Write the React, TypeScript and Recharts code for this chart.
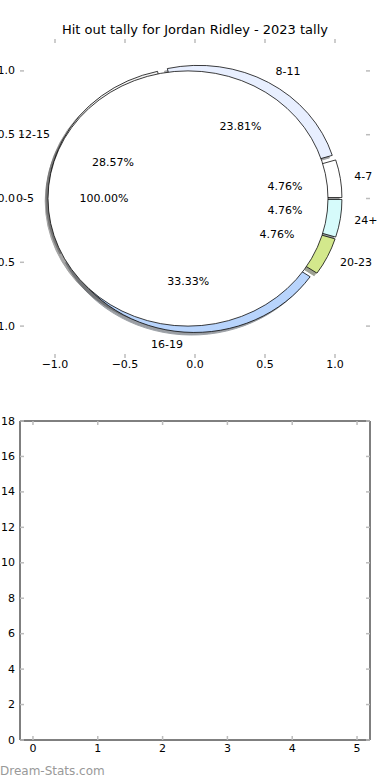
import React from 'react';
import { PieChart, Pie, Cell, Sector, ScatterChart, Scatter, XAxis, YAxis } from 'recharts';

// hit out brackets (outer, exploded ring)
const bracketNames = ['4-7', '8-11', '12-15', '16-19', '20-23', '24+'];
const bracketCounts = [1, 5, 6, 7, 1, 1];
const bracketColors = ['#ffffff', '#e8efff', '#f4f4f4', '#b8d4fc', '#d3e88c', '#d6fbfb'];

// the single-slice pie drawn on top
const totalNames = ['0-5'];
const totalCounts = [21];
const totalColors = ['#ffffff'];

const pieAxisTicks = [-1, -0.5, 0, 0.5, 1];
const emptyXTicks = [0, 1, 2, 3, 4, 5];
const emptyYTicks = [0, 2, 4, 6, 8, 10, 12, 14, 16, 18];

const bracketData = bracketNames.map((name, i) => ({ name, value: bracketCounts[i] }));
const totalData = totalNames.map((name, i) => ({ name, value: totalCounts[i] }));

const FONT = '"DejaVu Sans", sans-serif';
const RADIAN = Math.PI / 180;
const CX = 195;
const CY = 198.5;
const R = 140;
const K = 127.6 / 140; // matplotlib axes are not square, so the pie is an ellipse
const EXPLODE = 0.05;
const SHADOW = 0.02;

const darken = (hex: string) => {
  const n = parseInt(hex.slice(1), 16);
  const r = Math.round(((n >> 16) & 255) * 0.3);
  const g = Math.round(((n >> 8) & 255) * 0.3);
  const b = Math.round((n & 255) * 0.3);
  return `rgb(${r},${g},${b})`;
};

const wedgeShape = (mode: 'shadow' | 'wedge') => (props: any) => {
  const { cx, cy, outerRadius, startAngle, endAngle, midAngle, fill } = props;
  const r = outerRadius;
  let x = cx + EXPLODE * r * Math.cos(-midAngle * RADIAN);
  let y = cy + EXPLODE * r * Math.sin(-midAngle * RADIAN);
  if (mode === 'shadow') {
    x -= SHADOW * r;
    y += SHADOW * r;
  }
  const color = mode === 'shadow' ? darken(fill) : fill;
  const style =
    mode === 'shadow'
      ? { fill: color, stroke: color, strokeWidth: 1, opacity: 0.5 }
      : { fill: color, stroke: '#000', strokeWidth: 0.8 };
  const full = Math.abs(endAngle - startAngle) >= 359.9;
  return (
    <g transform={`translate(0 ${cy}) scale(1 ${K}) translate(0 ${-cy})`}>
      {full ? (
        <circle cx={x} cy={y} r={r} {...style} />
      ) : (
        <Sector
          cx={x}
          cy={y}
          innerRadius={0}
          outerRadius={r}
          startAngle={startAngle}
          endAngle={endAngle}
          {...style}
        />
      )}
    </g>
  );
};

const noShape = () => <g />;

const renderLabel = (props: any) => {
  const { cx, cy, midAngle, outerRadius, percent, name } = props;
  const c = Math.cos(-midAngle * RADIAN);
  const s = Math.sin(-midAngle * RADIAN);
  const lr = (1.1 + EXPLODE) * outerRadius;
  const pr = (0.6 + EXPLODE) * outerRadius;
  const lx = cx + lr * c;
  const ly = cy + lr * s * K;
  return (
    <g>
      <text
        x={lx}
        y={ly}
        textAnchor={lx > cx ? 'start' : 'end'}
        dominantBaseline="central"
        fontSize={11}
        fontFamily={FONT}
        fill="#000"
      >
        {name}
      </text>
      <text
        x={cx + pr * c}
        y={cy + pr * s * K}
        textAnchor="middle"
        dominantBaseline="central"
        fontSize={11}
        fontFamily={FONT}
        fill="#000"
      >
        {(percent * 100).toFixed(2)}%
      </text>
    </g>
  );
};

type Side = 'left' | 'right' | 'top' | 'bottom';

const makeTick = (side: Side, fmt: ((v: number) => string) | null, gap = 10) => (p: any) => {
  const { x, y, payload } = p;
  const len = 4;
  const x2 = side === 'left' ? x + len : side === 'right' ? x - len : x;
  const y2 = side === 'top' ? y + len : side === 'bottom' ? y - len : y;
  return (
    <g>
      <line x1={x} y1={y} x2={x2} y2={y2} stroke="#bcbcbc" strokeWidth={1.5} />
      {fmt && side === 'left' && (
        <text x={x - 5} y={y} textAnchor="end" dominantBaseline="central" fontSize={11} fontFamily={FONT} fill="#000">
          {fmt(payload.value)}
        </text>
      )}
      {fmt && side === 'bottom' && (
        <text x={x} y={y + gap} textAnchor="middle" fontSize={11} fontFamily={FONT} fill="#000">
          {fmt(payload.value)}
        </text>
      )}
    </g>
  );
};

const fmtPie = (v: number) => v.toFixed(1).replace('-', '\u2212');
const fmtInt = (v: number) => String(v);

export default function App() {
  return (
    <div style={{ position: 'absolute', left: 0, top: 0, width: 390, height: 780, background: '#fff' }}>
      <div
        style={{
          position: 'absolute',
          top: 23,
          left: 0,
          width: 390,
          textAlign: 'center',
          fontFamily: FONT,
          fontSize: 13,
          lineHeight: '13px',
          color: '#000',
        }}
      >
        Hit out tally for Jordan Ridley - 2023 tally
      </div>

      {/* axes frame of the pie panel */}
      <div style={{ position: 'absolute', top: 0, left: 0 }}>
        <ScatterChart width={390} height={390} margin={{ top: 0, right: 0, bottom: 0, left: 0 }}>
          <XAxis
            xAxisId="b"
            type="number"
            dataKey="x"
            orientation="bottom"
            height={32}
            domain={[-1.25, 1.25]}
            ticks={pieAxisTicks}
            interval={0}
            allowDataOverflow
            axisLine={false}
            tickLine={false}
            tickSize={0}
            tickMargin={0}
            tick={makeTick('bottom', fmtPie, 10)}
          />
          <XAxis
            xAxisId="t"
            type="number"
            dataKey="x"
            orientation="top"
            height={39}
            domain={[-1.25, 1.25]}
            ticks={pieAxisTicks}
            interval={0}
            allowDataOverflow
            axisLine={false}
            tickLine={false}
            tickSize={0}
            tickMargin={0}
            tick={makeTick('top', null)}
          />
          <YAxis
            yAxisId="l"
            type="number"
            dataKey="y"
            orientation="left"
            width={20}
            domain={[-1.25, 1.25]}
            ticks={pieAxisTicks}
            interval={0}
            allowDataOverflow
            axisLine={false}
            tickLine={false}
            tickSize={0}
            tickMargin={0}
            tick={makeTick('left', fmtPie)}
          />
          <YAxis
            yAxisId="r"
            type="number"
            dataKey="y"
            orientation="right"
            width={20}
            domain={[-1.25, 1.25]}
            ticks={pieAxisTicks}
            interval={0}
            allowDataOverflow
            axisLine={false}
            tickLine={false}
            tickSize={0}
            tickMargin={0}
            tick={makeTick('right', null)}
          />
          <Scatter xAxisId="b" yAxisId="l" data={[]} isAnimationActive={false} />
        </ScatterChart>
      </div>

      {/* the pies */}
      <div style={{ position: 'absolute', top: 0, left: 0 }}>
        <PieChart width={390} height={390} margin={{ top: 0, right: 0, bottom: 0, left: 0 }}>
          <Pie
            data={bracketData}
            dataKey="value"
            nameKey="name"
            cx={CX}
            cy={CY}
            outerRadius={R}
            isAnimationActive={false}
            labelLine={false}
            shape={wedgeShape('shadow')}
          >
            {bracketColors.map((c, i) => (
              <Cell key={i} fill={c} />
            ))}
          </Pie>
          <Pie
            data={totalData}
            dataKey="value"
            nameKey="name"
            cx={CX}
            cy={CY}
            outerRadius={R}
            isAnimationActive={false}
            labelLine={false}
            shape={wedgeShape('shadow')}
          >
            {totalColors.map((c, i) => (
              <Cell key={i} fill={c} />
            ))}
          </Pie>
          <Pie
            data={bracketData}
            dataKey="value"
            nameKey="name"
            cx={CX}
            cy={CY}
            outerRadius={R}
            isAnimationActive={false}
            labelLine={false}
            shape={wedgeShape('wedge')}
          >
            {bracketColors.map((c, i) => (
              <Cell key={i} fill={c} />
            ))}
          </Pie>
          <Pie
            data={totalData}
            dataKey="value"
            nameKey="name"
            cx={CX}
            cy={CY}
            outerRadius={R}
            isAnimationActive={false}
            labelLine={false}
            shape={wedgeShape('wedge')}
          >
            {totalColors.map((c, i) => (
              <Cell key={i} fill={c} />
            ))}
          </Pie>
          {/* labels go last so the white disc does not hide them */}
          <Pie
            data={bracketData}
            dataKey="value"
            nameKey="name"
            cx={CX}
            cy={CY}
            outerRadius={R}
            fill="none"
            stroke="none"
            isAnimationActive={false}
            labelLine={false}
            label={renderLabel}
            shape={noShape}
          />
          <Pie
            data={totalData}
            dataKey="value"
            nameKey="name"
            cx={CX}
            cy={CY}
            outerRadius={R}
            fill="none"
            stroke="none"
            isAnimationActive={false}
            labelLine={false}
            label={renderLabel}
            shape={noShape}
          />
        </PieChart>
      </div>

      {/* empty second panel */}
      <div style={{ position: 'absolute', top: 400, left: 0 }}>
        <ScatterChart width={390} height={360} margin={{ top: 0, right: 0, bottom: 0, left: 0 }}>
          <XAxis
            xAxisId="b"
            type="number"
            dataKey="x"
            orientation="bottom"
            height={20}
            domain={[-0.2, 5.2]}
            ticks={emptyXTicks}
            interval={0}
            allowDataOverflow
            axisLine={{ stroke: '#000', strokeWidth: 1 }}
            tickLine={false}
            tickSize={0}
            tickMargin={0}
            tick={makeTick('bottom', fmtInt, 12)}
          />
          <XAxis
            xAxisId="t"
            type="number"
            dataKey="x"
            orientation="top"
            height={21}
            domain={[-0.2, 5.2]}
            ticks={emptyXTicks}
            interval={0}
            allowDataOverflow
            axisLine={{ stroke: '#000', strokeWidth: 1 }}
            tickLine={false}
            tickSize={0}
            tickMargin={0}
            tick={makeTick('top', null)}
          />
          <YAxis
            yAxisId="l"
            type="number"
            dataKey="y"
            orientation="left"
            width={20}
            domain={[0, 18]}
            ticks={emptyYTicks}
            interval={0}
            allowDataOverflow
            axisLine={{ stroke: '#000', strokeWidth: 1 }}
            tickLine={false}
            tickSize={0}
            tickMargin={0}
            tick={makeTick('left', fmtInt)}
          />
          <YAxis
            yAxisId="r"
            type="number"
            dataKey="y"
            orientation="right"
            width={20}
            domain={[0, 18]}
            ticks={emptyYTicks}
            interval={0}
            allowDataOverflow
            axisLine={{ stroke: '#000', strokeWidth: 1 }}
            tickLine={false}
            tickSize={0}
            tickMargin={0}
            tick={makeTick('right', null)}
          />
          <Scatter xAxisId="b" yAxisId="l" data={[]} isAnimationActive={false} />
        </ScatterChart>
      </div>

      <div
        style={{
          position: 'absolute',
          top: 765,
          left: 0,
          fontFamily: FONT,
          fontSize: 12,
          lineHeight: '12px',
          color: '#999',
        }}
      >
        Dream-Stats.com
      </div>
    </div>
  );
}
